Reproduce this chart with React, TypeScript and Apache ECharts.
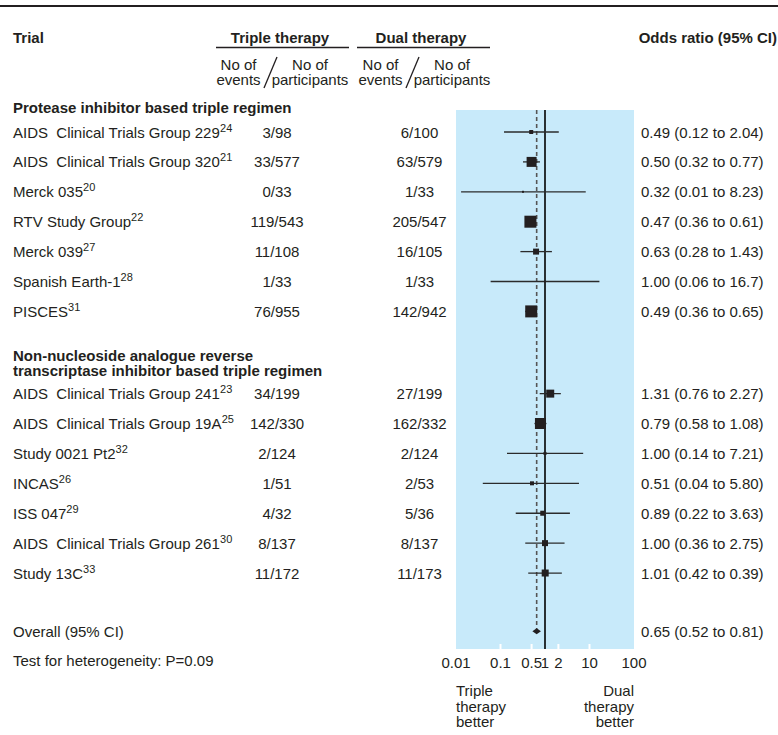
import React, { useEffect, useRef } from "react";
import * as echarts from "echarts";

// ---------- data ----------
const sectionTitles = [
  "Protease inhibitor based triple regimen",
  "Non-nucleoside analogue reverse\ntranscriptase inhibitor based triple regimen",
];
const trialNames = [
  "AIDS  Clinical Trials Group 229",
  "AIDS  Clinical Trials Group 320",
  "Merck 035",
  "RTV Study Group",
  "Merck 039",
  "Spanish Earth-1",
  "PISCES",
  "AIDS  Clinical Trials Group 241",
  "AIDS  Clinical Trials Group 19A",
  "Study 0021 Pt2",
  "INCAS",
  "ISS 047",
  "AIDS  Clinical Trials Group 261",
  "Study 13C",
];
const trialRefs = ["24", "21", "20", "22", "27", "28", "31", "23", "25", "32", "26", "29", "30", "33"];
const trialSection = [0, 0, 0, 0, 0, 0, 0, 1, 1, 1, 1, 1, 1, 1];
const tripleCounts = ["3/98", "33/577", "0/33", "119/543", "11/108", "1/33", "76/955", "34/199", "142/330", "2/124", "1/51", "4/32", "8/137", "11/172"];
const dualCounts = ["6/100", "63/579", "1/33", "205/547", "16/105", "1/33", "142/942", "27/199", "162/332", "2/124", "2/53", "5/36", "8/137", "11/173"];
const oddsRatios = [0.49, 0.5, 0.32, 0.47, 0.63, 1.0, 0.49, 1.31, 0.79, 1.0, 0.51, 0.89, 1.0, 1.01];
const ciLow = [0.12, 0.32, 0.013, 0.36, 0.28, 0.06, 0.36, 0.76, 0.58, 0.14, 0.04, 0.22, 0.36, 0.42];
const ciHigh = [2.04, 0.77, 8.23, 0.61, 1.43, 16.7, 0.65, 2.27, 1.08, 7.21, 5.8, 3.63, 2.75, 2.39];
const weightBox = [4, 10, 2, 12, 6, 2, 12, 8, 11, 3, 4, 5, 6, 7];
const ciLabels = [
  "0.49 (0.12 to 2.04)",
  "0.50 (0.32 to 0.77)",
  "0.32 (0.01 to 8.23)",
  "0.47 (0.36 to 0.61)",
  "0.63 (0.28 to 1.43)",
  "1.00 (0.06 to 16.7)",
  "0.49 (0.36 to 0.65)",
  "1.31 (0.76 to 2.27)",
  "0.79 (0.58 to 1.08)",
  "1.00 (0.14 to 7.21)",
  "0.51 (0.04 to 5.80)",
  "0.89 (0.22 to 3.63)",
  "1.00 (0.36 to 2.75)",
  "1.01 (0.42 to 0.39)",
];
const overall = { name: "Overall (95% CI)", or: 0.65, lo: 0.52, hi: 0.81, label: "0.65 (0.52 to 0.81)" };
const heterogeneityText = "Test for heterogeneity: P=0.09";
const xTickValues = [0.01, 0.1, 0.5, 1, 2, 10, 100];
const xTickLabels = ["0.01", "0.1", "0.5", "1", "2", "10", "100"];
const xMinorTicks = [0.1, 0.5, 2, 10];
const favoursLeft = "Triple\ntherapy\nbetter";
const favoursRight = "Dual\ntherapy\nbetter";

// ---------- layout ----------
const FONT = "'Liberation Sans', Arial, Helvetica, sans-serif";
const TXT = "#231f20";
const ROW0 = 132;
const STEP = 29.9;
const sectionStartSlot = [0, 8.75];
const overallSlot = 16.7;
const GRID_TOP = 110;
const GRID_BOTTOM = 649;
const yMin = (GRID_TOP - ROW0) / STEP;
const yMax = (GRID_BOTTOM - ROW0) / STEP;
const slotY = (s: number) => ROW0 + s * STEP;

export default function App() {
  const ref = useRef<HTMLDivElement>(null);
  useEffect(() => {
    document.body.style.margin = "0";
    const chart = echarts.init(ref.current!, undefined, { renderer: "svg" });

    const slots: number[] = [];
    const counters = [0, 0];
    trialSection.forEach((sec) => {
      slots.push(sectionStartSlot[sec] + counters[sec]);
      counters[sec] += 1;
    });

    const forestData = trialNames.map((_, i) => [slots[i], ciLow[i], ciHigh[i], oddsRatios[i], weightBox[i]]);

    const graphics: any[] = [];
    const txt = (x: number, y: number, text: string, opts: any = {}) => {
      graphics.push({
        type: "text",
        x,
        y,
        silent: true,
        style: {
          text,
          fontFamily: FONT,
          fontSize: 15,
          fill: TXT,
          align: "left",
          verticalAlign: "middle",
          ...opts,
        },
      });
    };

    // top rule
    graphics.push({ type: "rect", shape: { x: 0, y: 5, width: 778, height: 2 }, style: { fill: TXT } });
    // header
    txt(13, 37, "Trial", { fontWeight: "bold" });
    txt(280, 37, "Triple therapy", { fontWeight: "bold", align: "center" });
    txt(421, 37, "Dual therapy", { fontWeight: "bold", align: "center" });
    txt(777, 37, "Odds ratio (95% CI)", { fontWeight: "bold", align: "right" });
    graphics.push({ type: "line", shape: { x1: 216, y1: 47.5, x2: 349, y2: 47.5 }, style: { stroke: TXT, lineWidth: 1.5 } });
    graphics.push({ type: "line", shape: { x1: 357, y1: 47.5, x2: 490, y2: 47.5 }, style: { stroke: TXT, lineWidth: 1.5 } });
    const subHead = [
      { ev: 238.5, pa: 310, sx: 264 },
      { ev: 380.5, pa: 452, sx: 406 },
    ];
    subHead.forEach((h) => {
      txt(h.ev, 71.5, "No of\nevents", { align: "center", lineHeight: 15 });
      txt(h.pa, 71.5, "No of\nparticipants", { align: "center", lineHeight: 15 });
      graphics.push({ type: "line", shape: { x1: h.sx, y1: 88, x2: h.sx + 13, y2: 57 }, style: { stroke: TXT, lineWidth: 1.3 } });
    });

    // section titles
    txt(13, 107, sectionTitles[0], { fontWeight: "bold" });
    txt(13, 362.5, sectionTitles[1], { fontWeight: "bold", lineHeight: 15 });

    // rows
    trialNames.forEach((name, i) => {
      const y = slotY(slots[i]);
      graphics.push({
        type: "text",
        x: 13,
        y,
        silent: true,
        style: {
          text: `{a|${name}}{b|${trialRefs[i]}}`,
          verticalAlign: "middle",
          align: "left",
          rich: {
            a: { fontFamily: FONT, fontSize: 15, fill: TXT, color: TXT, lineHeight: 20 },
            b: { fontFamily: FONT, fontSize: 11, fill: TXT, color: TXT, lineHeight: 6, verticalAlign: "top" },
          },
        },
      });
      txt(277, y, tripleCounts[i], { align: "center" });
      txt(419.5, y, dualCounts[i], { align: "center" });
      txt(641, y, ciLabels[i]);
    });

    const oy = slotY(overallSlot);
    txt(13, oy, overall.name);
    txt(641, oy, overall.label);
    txt(13, 660, heterogeneityText);

    // favours labels
    txt(456, 706, favoursLeft, { lineHeight: 15.5 });
    txt(634, 706, favoursRight, { align: "right", lineHeight: 15.5 });

    const option: any = {
      animation: false,
      grid: {
        left: 456,
        right: 778 - 634,
        top: GRID_TOP,
        bottom: 735 - GRID_BOTTOM,
        show: true,
        backgroundColor: "#c8eafa",
        borderWidth: 0,
      },
      xAxis: {
        type: "log",
        logBase: 10,
        min: 0.01,
        max: 100,
        position: "bottom",
        axisLine: { show: false, onZero: false },
        splitLine: { show: false },
        axisTick: { show: false },
        axisLabel: {
          show: true,
          customValues: xTickValues,
          margin: 6,
          fontFamily: FONT,
          fontSize: 15,
          color: TXT,
          formatter: (v: number) => {
            let best = 0;
            xTickValues.forEach((t, k) => {
              if (Math.abs(Math.log10(t) - Math.log10(v)) < Math.abs(Math.log10(xTickValues[best]) - Math.log10(v))) best = k;
            });
            return xTickLabels[best];
          },
        },
      },
      yAxis: {
        type: "value",
        inverse: true,
        min: yMin,
        max: yMax,
        show: false,
        splitLine: { show: false },
      },
      series: [
        {
          type: "line",
          data: [
            [1, yMin],
            [1, yMax],
          ],
          symbol: "none",
          lineStyle: { color: "#000", width: 1.6 },
          silent: true,
          z: 3,
        },
        {
          type: "line",
          data: [
            [overall.or, yMin],
            [overall.or, overallSlot],
          ],
          symbol: "none",
          lineStyle: { color: "#555", width: 1.6, type: [4, 3] },
          silent: true,
          z: 3,
        },
        {
          // white minor ticks at the bottom edge of the shaded panel
          type: "custom",
          silent: true,
          z: 4,
          encode: { x: 0, y: 1 },
          data: xMinorTicks.map((v) => [v, yMax]),
          renderItem: (params: any, api: any) => {
            const p = api.coord([api.value(0), api.value(1)]);
            return {
              type: "line",
              shape: { x1: p[0], y1: p[1], x2: p[0], y2: p[1] - 5 },
              style: { stroke: "#ffffff", lineWidth: 2 },
            };
          },
        },
        {
          type: "custom",
          silent: true,
          z: 5,
          encode: { x: [1, 2, 3], y: 0 },
          data: forestData,
          renderItem: (params: any, api: any) => {
            const s = api.value(0);
            const pLo = api.coord([api.value(1), s]);
            const pHi = api.coord([api.value(2), s]);
            const pOr = api.coord([api.value(3), s]);
            const size = api.value(4);
            return {
              type: "group",
              children: [
                {
                  type: "line",
                  shape: { x1: pLo[0], y1: pLo[1], x2: pHi[0], y2: pHi[1] },
                  style: { stroke: "#2b2b2b", lineWidth: 1.3 },
                },
                {
                  type: "rect",
                  shape: { x: pOr[0] - size / 2, y: pOr[1] - size / 2, width: size, height: size },
                  style: { fill: TXT },
                },
              ],
            };
          },
        },
        {
          type: "custom",
          silent: true,
          z: 6,
          encode: { x: [1, 2, 3], y: 0 },
          data: [[overallSlot, overall.lo, overall.hi, overall.or]],
          renderItem: (params: any, api: any) => {
            const s = api.value(0);
            const pLo = api.coord([api.value(1), s]);
            const pHi = api.coord([api.value(2), s]);
            const pOr = api.coord([api.value(3), s]);
            return {
              type: "polygon",
              shape: {
                points: [
                  [pLo[0], pLo[1]],
                  [pOr[0], pOr[1] - 3],
                  [pHi[0], pHi[1]],
                  [pOr[0], pOr[1] + 3],
                ],
              },
              style: { fill: TXT },
            };
          },
        },
      ],
      graphic: graphics,
    };
    chart.setOption(option);
    return () => chart.dispose();
  }, []);
  return <div ref={ref} style={{ width: 778, height: 735 }} />;
}
